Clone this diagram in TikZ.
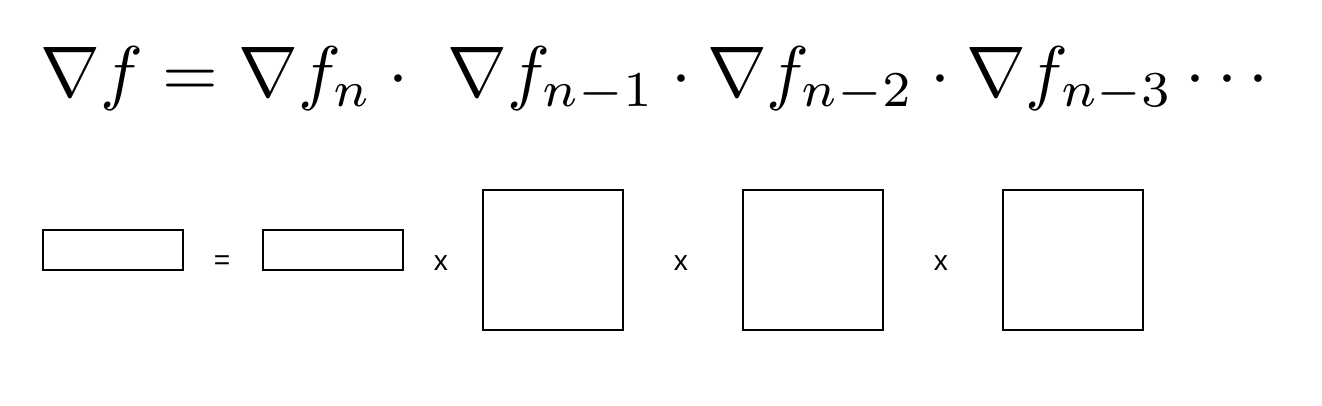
\documentclass[tikz,border=0pt]{standalone}
\usepackage{xcolor}
\usepackage{graphicx}
\usepackage{fontspec}
\newfontfamily\opfont{Liberation Sans}

\begin{document}
\begin{tikzpicture}
                    \useasboundingbox (0,0) rectangle (26.44,8.1);
                    \tikzset{mat/.style={shape=rectangle,draw=black,line width=0.8pt,inner sep=0pt},
                             op/.style={font=\opfont\fontsize{16}{18}\selectfont,inner sep=0pt}}
                    
                    \node[anchor=base west,inner sep=0pt] (F) at (0.80,6.18) {\scalebox{4.08}{$\nabla f = \nabla f_n \cdot\ \nabla f_{n-1} \cdot \nabla f_{n-2} \cdot \nabla f_{n-3} \cdots$}};
                    
                    \node[mat,minimum width=2.8cm,minimum height=0.8cm] (G) at (2.26,3.1) {};
                    \node[op] (E) at (4.44,2.84) {=};
                    \node[mat,minimum width=2.8cm,minimum height=0.8cm] (Gn) at (6.66,3.1) {};
                    \node[op] (X1) at (8.82,2.84) {x};
                    \node[mat,minimum width=2.8cm,minimum height=2.8cm] (J1) at (11.06,2.9) {};
                    \node[op] (X2) at (13.62,2.84) {x};
                    \node[mat,minimum width=2.8cm,minimum height=2.8cm] (J2) at (16.26,2.9) {};
                    \node[op] (X3) at (18.82,2.84) {x};
                    \node[mat,minimum width=2.8cm,minimum height=2.8cm] (J3) at (21.46,2.9) {};
                \end{tikzpicture}
\end{document}
